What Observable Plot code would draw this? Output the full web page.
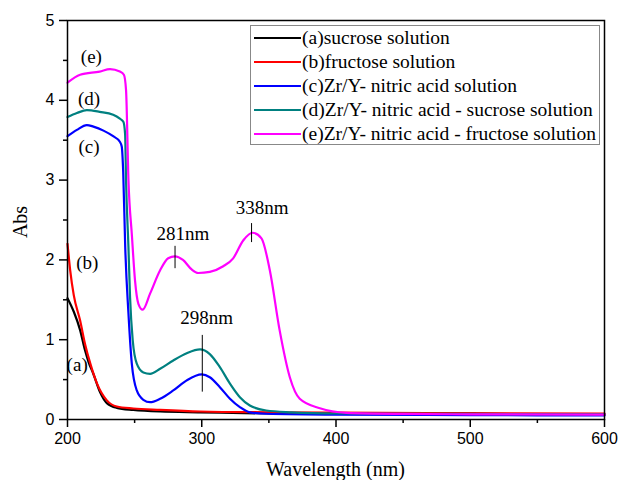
<!DOCTYPE html>
<html>
<head>
<meta charset="utf-8">
<script src="https://cdn.jsdelivr.net/npm/d3@7"></script>
<script src="https://cdn.jsdelivr.net/npm/@observablehq/plot@0.6"></script>
<style>
  html, body { margin: 0; padding: 0; background: #fff; }
  #wrap { position: relative; width: 620px; height: 480px; }
  #legend { position: absolute; left: 250px; top: 25px; width: 350px; height: 120px;
    border: 1px solid #888; background: #fff; box-sizing: border-box;
    font-family: "Liberation Serif", "Times New Roman", serif; font-size: 19.5px; padding-top: 0px; }
  .row { display: flex; align-items: center; height: 24px; white-space: nowrap; }
  .sw { width: 47px; height: 0; border-top: 2.5px solid; margin-left: 3px; margin-right: 1px; }
  .ttl { position: absolute; font-family: "Liberation Serif", "Times New Roman", serif; font-size: 20px; line-height: 22px; white-space: nowrap; }
</style>
</head>
<body>
<div id="wrap"></div>
<script>
// (a) sucrose solution
const aWl  = [200, 204.7, 209.4, 213, 215.7, 219.3, 224.3, 229.3, 236.7, 249, 269, 299, 350, 400, 500, 600];
const aAbs = [1.52, 1.35, 1.12, 0.87, 0.72, 0.57, 0.34, 0.205, 0.146, 0.12, 0.10, 0.09, 0.075, 0.07, 0.065, 0.06];
// (b) fructose solution
const bWl  = [200, 202, 204.7, 209.4, 213, 217, 222, 229.3, 236.7, 249, 269, 299, 350, 400, 500, 600];
const bAbs = [2.2, 1.87, 1.556, 1.24, 0.95, 0.70, 0.45, 0.24, 0.163, 0.138, 0.12, 0.10, 0.09, 0.085, 0.08, 0.075];
// (c) Zr/Y- nitric acid solution
const cWl  = [200, 207, 214.4, 219.3, 226.8, 234, 239, 240.4, 241.5, 243, 245.4, 247.9, 251.6, 256.5, 261.5, 269, 278.8, 288.8, 300, 306, 313.5, 321, 328.4, 335.8, 348, 400, 500, 600];
const cAbs = [3.55, 3.63, 3.69, 3.67, 3.62, 3.55, 3.48, 3.42, 3.1, 2.16, 1.33, 0.70, 0.364, 0.247, 0.217, 0.26, 0.364, 0.49, 0.565, 0.53, 0.405, 0.26, 0.155, 0.09, 0.072, 0.06, 0.055, 0.05];
// (d) Zr/Y- nitric acid - sucrose solution
const dWl  = [200, 207, 214.4, 224, 234, 239, 241.6, 242.9, 243.6, 245.4, 246.6, 248.6, 251.6, 256.5, 261.5, 269, 278.8, 288.8, 298.7, 306, 313.5, 321, 328.4, 335.8, 348, 367, 400, 500, 600];
const dAbs = [3.79, 3.84, 3.877, 3.856, 3.82, 3.77, 3.73, 3.58, 3.0, 2.16, 1.53, 0.99, 0.70, 0.59, 0.573, 0.636, 0.74, 0.83, 0.878, 0.82, 0.656, 0.45, 0.28, 0.176, 0.113, 0.09, 0.075, 0.07, 0.065];
// (e) Zr/Y- nitric acid - fructose solution
const eWl  = [200, 209.4, 224, 231.7, 239, 242, 243.6, 245.4, 248, 250.3, 252.8, 256, 261.5, 269, 275, 280, 286, 292.5, 297.4, 306, 316, 323.4, 331, 337.8, 344.5, 350.7, 358, 365.6, 373, 388, 407.7, 450, 500, 600];
const eAbs = [4.22, 4.32, 4.36, 4.39, 4.36, 4.32, 4.13, 3.0, 2.3, 1.74, 1.45, 1.376, 1.577, 1.87, 2.02, 2.045, 2.0, 1.88, 1.836, 1.85, 1.92, 2.02, 2.246, 2.34, 2.27, 1.87, 1.12, 0.53, 0.26, 0.14, 0.083, 0.07, 0.065, 0.06];

const seriesNames  = ["(a)sucrose solution", "(b)fructose solution", "(c)Zr/Y- nitric acid solution",
                      "(d)Zr/Y- nitric acid - sucrose solution", "(e)Zr/Y- nitric acid - fructose solution"];
const seriesColors = ["#000000", "#ff0000", "#0000ff", "#008080", "#ff00ff"];

// curve tags
const tagText = ["(a)", "(b)", "(c)", "(d)", "(e)"];
const tagWl   = [207.2, 214.8, 216, 216, 217.8];
const tagAbs  = [0.69, 1.96, 3.41, 4.02, 4.54];

// peak annotations
const peakText  = ["281nm", "338nm", "298nm"];
const peakTxtWl = [286, 345, 303.6];
const peakTxtAbs= [2.33, 2.65, 1.27];
const peakWl    = [280.1, 337.1, 300.4];
const peakTop   = [2.17, 2.455, 1.054];
const peakBot   = [1.89, 2.217, 0.343];

const xMajor = [200, 300, 400, 500, 600];
const xMinor = [250, 350, 450, 550];
const yMajor = [0, 1, 2, 3, 4, 5];
const yMinor = [0.5, 1.5, 2.5, 3.5, 4.5];

const allWl = [aWl, bWl, cWl, dWl, eWl];
const allAbs = [aAbs, bAbs, cAbs, dAbs, eAbs];
const rows = [];
allWl.forEach((wl, s) => wl.forEach((w, i) => rows.push({s: seriesNames[s], wl: w, abs: allAbs[s][i]})));
const tags = tagText.map((t, i) => ({t, wl: tagWl[i], abs: tagAbs[i]}));
const peaks = peakText.map((t, i) => ({t, tw: peakTxtWl[i], ta: peakTxtAbs[i], wl: peakWl[i], top: peakTop[i], bot: peakBot[i]}));

const serif = "Liberation Serif";
const sans = "Liberation Sans";

const chart = Plot.plot({
  width: 620,
  height: 480,
  marginLeft: 67,
  marginRight: 16,
  marginTop: 20,
  marginBottom: 61,
  style: {fontFamily: sans, fontSize: "16px", color: "#000", background: "#fff"},
  x: {domain: [200, 600]},
  y: {domain: [0, 5]},
  color: {domain: seriesNames, range: seriesColors},
  marks: [
    Plot.line(rows, {x: "wl", y: "abs", z: "s", stroke: "s", strokeWidth: 2.2, curve: "monotone-x"}),
    Plot.ruleX(peaks, {x: "wl", y1: "bot", y2: "top", stroke: "#000", strokeWidth: 1}),
    Plot.text(peaks, {x: "tw", y: "ta", text: "t", fontFamily: serif, fontSize: 19, fill: "#000"}),
    Plot.text(tags, {x: "wl", y: "abs", text: "t", fontFamily: serif, fontSize: 19, fill: "#000"}),
    Plot.axisX({ticks: xMajor, tickSize: 8, tickPadding: 5, tickFormat: d => d, fontSize: 16, strokeWidth: 1.5, label: null}),
    Plot.axisX({ticks: xMinor, tickSize: 4, text: null, strokeWidth: 1.5, label: null}),
    Plot.axisY({ticks: yMajor, tickSize: 8, tickPadding: 5, tickFormat: d => d, fontSize: 16, strokeWidth: 1.5, label: null}),
    Plot.axisY({ticks: yMinor, tickSize: 4, text: null, strokeWidth: 1.5, label: null}),
    Plot.frame({stroke: "#000", strokeWidth: 1.5})
  ]
});

const wrap = document.getElementById("wrap");
wrap.appendChild(chart);

// axis titles (HTML overlays)
const xt = document.createElement("div");
xt.className = "ttl";
xt.textContent = "Wavelength (nm)";
Object.assign(xt.style, {left: "67px", width: "537px", top: "458px", textAlign: "center"});
wrap.appendChild(xt);
const yt = document.createElement("div");
yt.className = "ttl";
yt.textContent = "Abs";
Object.assign(yt.style, {left: "20px", top: "222px", transform: "translate(-50%,-50%) rotate(-90deg)"});
wrap.appendChild(yt);

// legend
const lg = document.createElement("div");
lg.id = "legend";
seriesNames.forEach((n, i) => {
  const r = document.createElement("div"); r.className = "row";
  const sw = document.createElement("div"); sw.className = "sw"; sw.style.borderTopColor = seriesColors[i];
  const tx = document.createElement("span"); tx.textContent = n;
  r.appendChild(sw); r.appendChild(tx); lg.appendChild(r);
});
wrap.appendChild(lg);
</script>
</body>
</html>
